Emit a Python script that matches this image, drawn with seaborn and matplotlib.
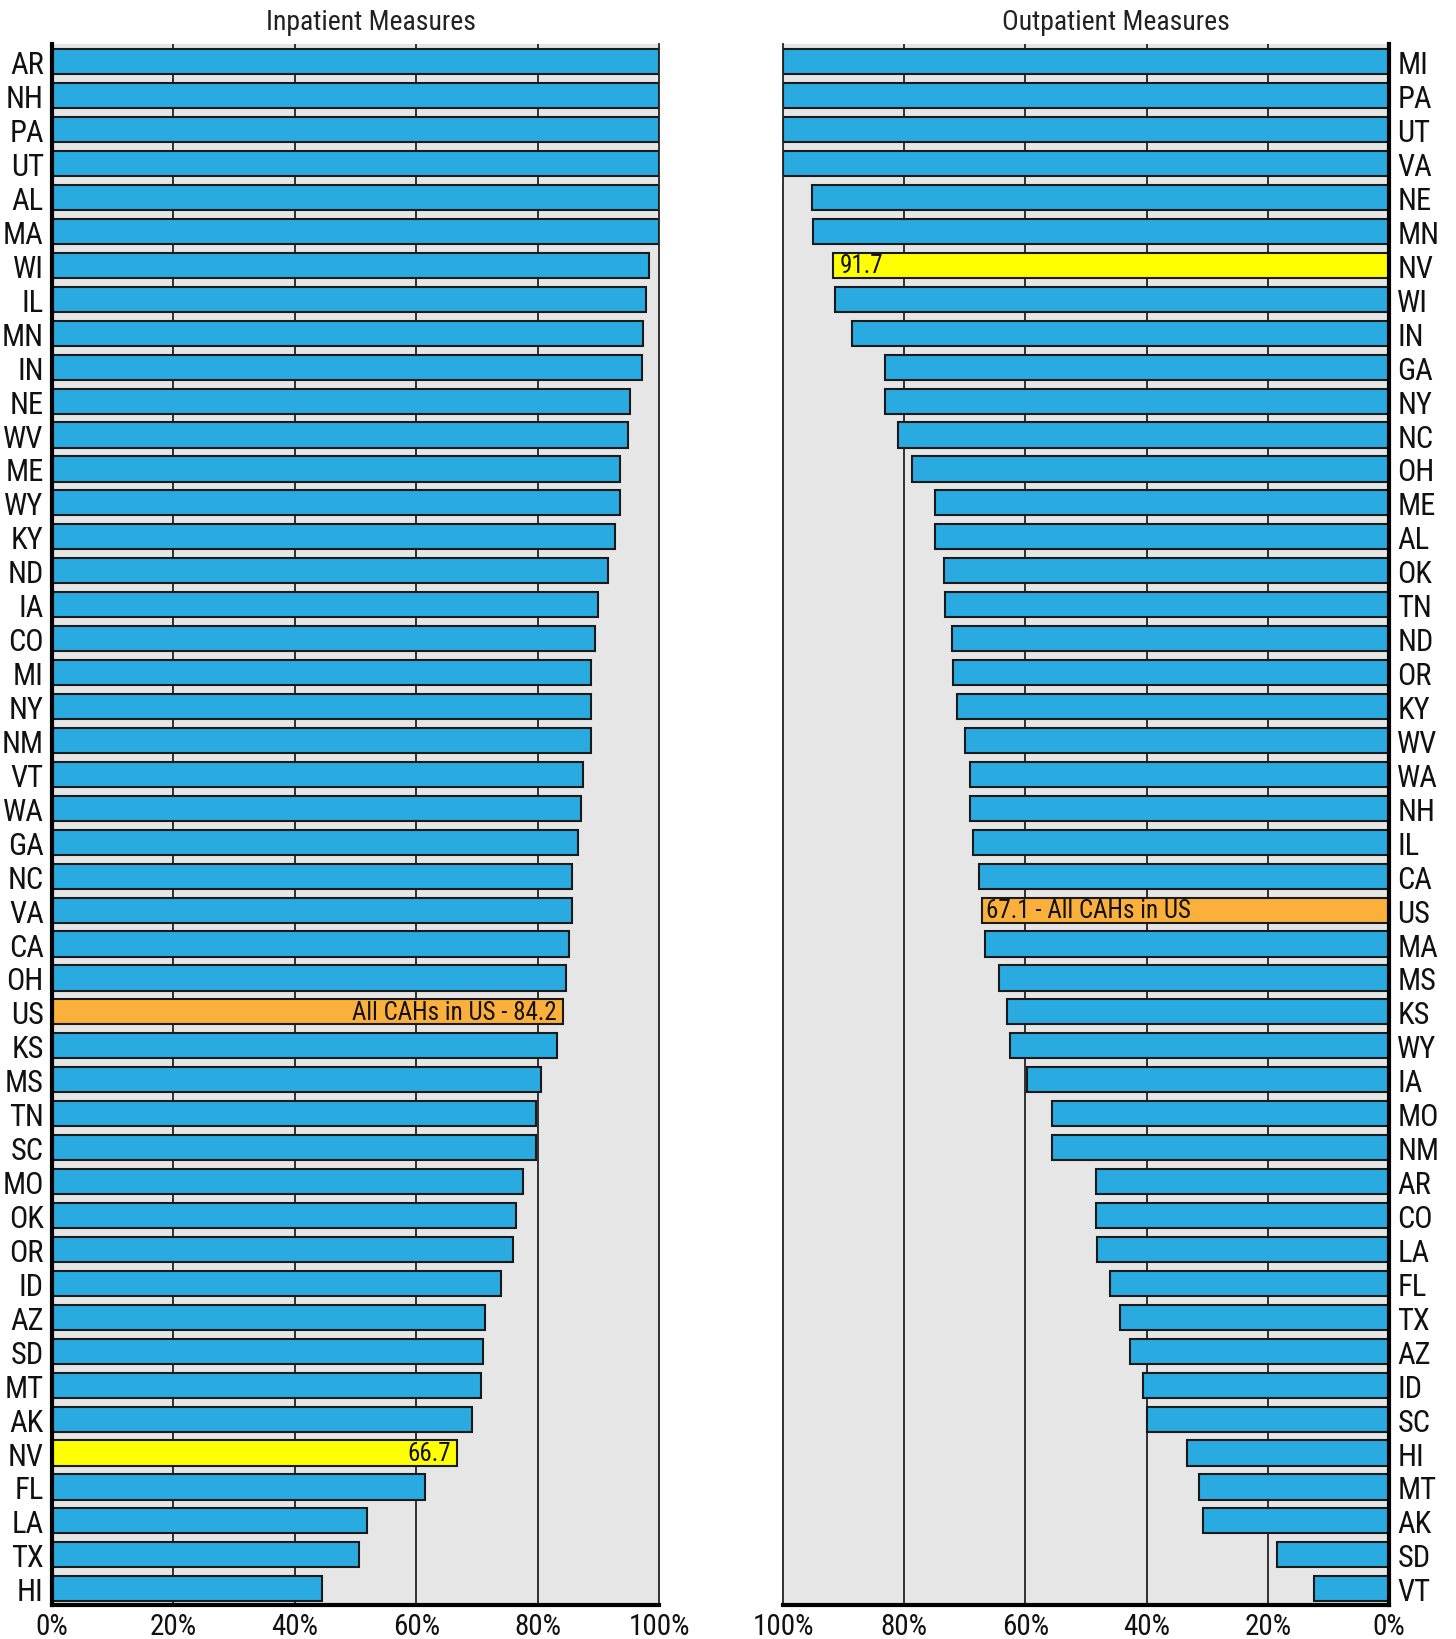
import matplotlib
matplotlib.use("Agg")
import matplotlib.pyplot as plt
import seaborn as sns
import pandas as pd

# ---- data ----
in_states = ["AR", "NH", "PA", "UT", "AL", "MA", "WI", "IL", "MN", "IN", "NE", "WV", "ME", "WY",
             "KY", "ND", "IA", "CO", "MI", "NY", "NM", "VT", "WA", "GA", "NC", "VA", "CA", "OH",
             "US", "KS", "MS", "TN", "SC", "MO", "OK", "OR", "ID", "AZ", "SD", "MT", "AK", "NV",
             "FL", "LA", "TX", "HI"]
in_values = [100, 100, 100, 100, 100, 100, 98.3, 97.9, 97.4, 97.1, 95.2, 94.8, 93.6, 93.6,
             92.8, 91.6, 90.0, 89.5, 88.8, 88.8, 88.8, 87.4, 87.1, 86.6, 85.7, 85.7, 85.2, 84.7,
             84.2, 83.1, 80.5, 79.8, 79.8, 77.6, 76.4, 75.9, 74.0, 71.4, 71.0, 70.7, 69.1, 66.7,
             61.4, 51.9, 50.5, 44.5]

out_states = ["MI", "PA", "UT", "VA", "NE", "MN", "NV", "WI", "IN", "GA", "NY", "NC", "OH", "ME",
              "AL", "OK", "TN", "ND", "OR", "KY", "WV", "WA", "NH", "IL", "CA", "US", "MA", "MS",
              "KS", "WY", "IA", "MO", "NM", "AR", "CO", "LA", "FL", "TX", "AZ", "ID", "SC", "HI",
              "MT", "AK", "SD", "VT"]
out_values = [100, 100, 100, 100, 95.3, 95.0, 91.7, 91.4, 88.6, 83.2, 83.2, 81.0, 78.8, 75.0,
              75.0, 73.4, 73.2, 72.2, 72.0, 71.3, 69.9, 69.1, 69.1, 68.6, 67.7, 67.1, 66.7, 64.4,
              63.0, 62.5, 59.8, 55.6, 55.6, 48.4, 48.4, 48.2, 46.1, 44.4, 42.8, 40.6, 39.9, 33.3,
              31.3, 30.7, 18.5, 12.4]

titles = ["Inpatient Measures", "Outpatient Measures"]
tick_vals = [0, 20, 40, 60, 80, 100]
tick_labels = ["0%", "20%", "40%", "60%", "80%", "100%"]

BLUE = "#29aae1"
ORANGE = "#fbb03b"
YELLOW = "#ffff00"
BG = "#e6e6e6"

sns.set_theme(style="white")
plt.rcParams["font.family"] = ["Roboto Condensed", "Archivo Narrow", "PT Sans Narrow",
                               "Liberation Sans Narrow", "DejaVu Sans"]

fig = plt.figure(figsize=(14.56, 16.4), dpi=100)
ax_l = fig.add_axes([0.0357, 0.0207, 0.417, 0.952])
ax_r = fig.add_axes([0.5378, 0.0207, 0.4162, 0.952])


def colors_for(states):
    return {s: (ORANGE if s == "US" else YELLOW if s == "NV" else BLUE) for s in states}


def draw(ax, states, values, right):
    df = pd.DataFrame({"state": states, "value": values})
    ax.set_facecolor(BG)
    ax.set_axisbelow(True)
    for v in tick_vals[1:-1]:
        ax.axvline(v, color="#222222", lw=1.3, zorder=0)
    sns.barplot(data=df, x="value", y="state", hue="state", palette=colors_for(states),
                orient="h", width=0.74, edgecolor="#1a1a1a", linewidth=1.5,
                legend=False, saturation=1, ax=ax, zorder=2)
    ax.set_xlim(100, 0) if right else ax.set_xlim(0, 100)
    ax.set_ylim(len(states) - 0.52, -0.53)
    ax.set_xticks(tick_vals)
    ax.set_xticklabels(tick_labels, fontsize=21)
    ax.tick_params(axis="x", length=0, pad=5)
    ax.tick_params(axis="y", length=0, labelsize=22, pad=6)
    ax.set_xlabel("")
    ax.set_ylabel("")
    for s in ax.spines.values():
        s.set_visible(False)
    ax.spines["bottom"].set_visible(True)
    ax.spines["bottom"].set_linewidth(3)
    ax.spines["bottom"].set_color("black")
    thick = "right" if right else "left"
    thin = "left" if right else "right"
    ax.spines[thick].set_visible(True)
    ax.spines[thick].set_linewidth(3)
    ax.spines[thick].set_color("black")
    ax.spines[thin].set_visible(True)
    ax.spines[thin].set_linewidth(1.3)
    ax.spines[thin].set_color("#222222")
    if right:
        ax.yaxis.tick_right()
        ax.yaxis.set_label_position("right")
    for lab in ax.get_yticklabels() + ax.get_xticklabels():
        lab.set_color("#111111")


draw(ax_l, in_states, in_values, right=False)
draw(ax_r, out_states, out_values, right=True)

fig.text(0.255, 0.9865, titles[0], ha="center", va="center", fontsize=20, color="#222222")
fig.text(0.7665, 0.9865, titles[1], ha="center", va="center", fontsize=20, color="#222222")

# annotations
i_us = in_states.index("US")
ax_l.text(in_values[i_us] - 1.0, i_us, f"All CAHs in US - {in_values[i_us]}",
          ha="right", va="center", fontsize=18, color="#111111", zorder=3)
i_nv = in_states.index("NV")
ax_l.text(in_values[i_nv] - 1.0, i_nv, f"{in_values[i_nv]}",
          ha="right", va="center", fontsize=18, color="#111111", zorder=3)
o_us = out_states.index("US")
ax_r.text(out_values[o_us] - 0.6, o_us, f"{out_values[o_us]} - All CAHs in US",
          ha="left", va="center", fontsize=18, color="#111111", zorder=3)
o_nv = out_states.index("NV")
ax_r.text(out_values[o_nv] - 1.0, o_nv, f"{out_values[o_nv]}",
          ha="left", va="center", fontsize=18, color="#111111", zorder=3)

fig.savefig("out.png", dpi=100)
